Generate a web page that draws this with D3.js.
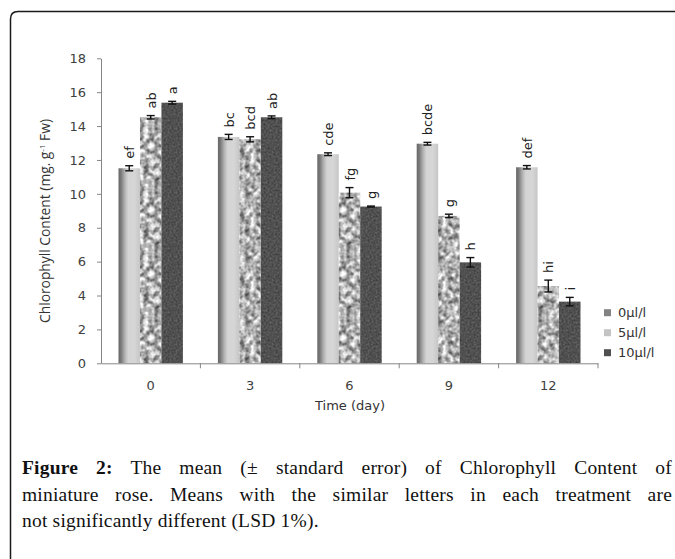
<!DOCTYPE html>
<html lang="en">
  <head>
    <meta charset="UTF-8" />
    <title>Chlorophyll content</title>
    <script src="https://d3js.org/d3.v7.min.js"></script>
    <style>
      body { margin: 0; padding: 0; background: #ffffff; }
      svg { display: block; }
      .tick text { fill: #404040; }
    </style>
  </head>
  <body>
    <script>
      const w = 675;
      const h = 559;

      // data
      const days = ["0", "3", "6", "9", "12"];
      const series = ["0µl/l", "5µl/l", "10µl/l"];
      const mean0 = [11.51, 13.36, 12.34, 12.96, 11.57];
      const mean5 = [14.52, 13.22, 10.07, 8.70, 4.56];
      const mean10 = [15.38, 14.52, 9.25, 5.96, 3.64];
      const se0 = [0.15, 0.15, 0.08, 0.08, 0.1];
      const se5 = [0.1, 0.15, 0.3, 0.1, 0.35];
      const se10 = [0.08, 0.08, 0.03, 0.28, 0.25];
      const letters0 = ["ef", "bc", "cde", "bcde", "def"];
      const letters5 = ["ab", "bcd", "fg", "g", "hi"];
      const letters10 = ["a", "ab", "g", "h", "i"];
      const yTicks = [0, 2, 4, 6, 8, 10, 12, 14, 16, 18];

      const means = [mean0, mean5, mean10];
      const ses = [se0, se5, se10];
      const letters = [letters0, letters5, letters10];

      const rows = [];
      series.forEach((s, si) => {
        days.forEach((d, di) => {
          rows.push({ day: d, s, si, v: means[si][di], e: ses[si][di], l: letters[si][di] });
        });
      });

      const svg = d3.select("body").append("svg").attr("width", w).attr("height", h);
      svg.append("rect").attr("width", w).attr("height", h).attr("fill", "#fff");

      const defs = svg.append("defs");
      const grad = defs.append("linearGradient").attr("id", "g0").attr("x1", 0).attr("x2", 1).attr("y1", 0).attr("y2", 0);
      [[0, "#666"], [0.12, "#7a7a7a"], [0.3, "#b3b3b3"], [0.45, "#d4d4d4"], [0.75, "#d6d6d6"], [1, "#c6c6c6"]]
        .forEach(([o, c]) => grad.append("stop").attr("offset", o).attr("stop-color", c));

      // noise textures as small seamless tiles
      const tile = 64;
      const makeNoise = (id, freq, octaves, seed, matrix, base) => {
        const f = defs.append("filter").attr("id", id + "f")
          .attr("filterUnits", "userSpaceOnUse")
          .attr("x", 0).attr("y", 0).attr("width", tile).attr("height", tile)
          .attr("color-interpolation-filters", "sRGB");
        f.append("feTurbulence").attr("type", "fractalNoise").attr("baseFrequency", freq)
          .attr("numOctaves", octaves).attr("seed", seed).attr("stitchTiles", "stitch");
        f.append("feColorMatrix").attr("type", "matrix").attr("values", matrix);
        const p = defs.append("pattern").attr("id", id).attr("patternUnits", "userSpaceOnUse")
          .attr("width", tile).attr("height", tile);
        p.append("rect").attr("width", tile).attr("height", tile).attr("fill", base).attr("filter", `url(#${id}f)`);
      };
      makeNoise("mottle", 0.1875, 2, 4, "1.15 0 0 0 0.12  1.15 0 0 0 0.12  1.15 0 0 0 0.12  0 0 0 0 1", "#bbb");
      makeNoise("darknoise", 0.5, 1, 2, "0.25 0 0 0 0.19  0.25 0 0 0 0.19  0.25 0 0 0 0.19  0 0 0 0 1", "#505050");

      const fills = ["url(#g0)", "url(#mottle)", "url(#darknoise)"];

      // frame
      svg.append("path")
        .attr("d", "M10.5,559 L10.5,19 Q10.5,11.5 18,11.5 L675,11.5")
        .attr("fill", "none").attr("stroke", "#1a1a1a").attr("stroke-width", 1.5);

      const x0 = d3.scaleBand().domain(days).range([101, 598]);
      const x1 = d3.scaleBand().domain(series).range([17.5, x0.bandwidth() - 17.5]);
      const y = d3.scaleLinear().domain([0, 18]).range([363.3, 58.3]);

      // y axis
      const yAxis = svg.append("g").attr("transform", "translate(101,0)")
        .call(d3.axisLeft(y).tickValues(yTicks).tickSize(4).tickSizeOuter(0).tickPadding(11));
      yAxis.selectAll("path, line").attr("stroke", "#868686");
      yAxis.selectAll("text").style("font-family", "DejaVu Sans").style("font-size", "13px");

      // bars
      svg.append("g").selectAll("rect").data(rows).join("rect")
        .attr("x", (d) => x0(d.day) + x1(d.s))
        .attr("y", (d) => y(d.v))
        .attr("width", x1.bandwidth())
        .attr("height", (d) => y(0) - y(d.v))
        .attr("fill", (d) => fills[d.si]);

      // x axis
      const xAxis = svg.append("g").attr("transform", `translate(0,${y(0)})`)
        .call(d3.axisBottom(x0).tickSize(0).tickPadding(17));
      xAxis.select(".domain").attr("stroke", "#868686");
      xAxis.selectAll("text").style("font-family", "DejaVu Sans").style("font-size", "13px");
      svg.append("g").selectAll("line").data(days.slice(1).map((d) => x0(d)).concat([x0.range()[1]]))
        .join("line")
        .attr("x1", (d) => d).attr("x2", (d) => d)
        .attr("y1", y(0)).attr("y2", y(0) + 5)
        .attr("stroke", "#868686");

      // error bars
      const cx = (d) => x0(d.day) + x1(d.s) + x1.bandwidth() / 2;
      const eb = svg.append("g").attr("stroke", "#111").attr("stroke-width", 1.4);
      rows.forEach((d) => {
        const c = cx(d);
        eb.append("line").attr("x1", c).attr("x2", c).attr("y1", y(d.v - d.e)).attr("y2", y(d.v + d.e));
        eb.append("line").attr("x1", c - 4).attr("x2", c + 4).attr("y1", y(d.v - d.e)).attr("y2", y(d.v - d.e));
        eb.append("line").attr("x1", c - 4).attr("x2", c + 4).attr("y1", y(d.v + d.e)).attr("y2", y(d.v + d.e));
      });

      // letters
      svg.append("g").selectAll("text").data(rows).join("text")
        .attr("transform", (d) => `translate(${cx(d) + 5},${y(d.v + d.e) - 7}) rotate(-90)`)
        .attr("font-family", "DejaVu Sans").attr("font-size", 13).attr("fill", "#222")
        .text((d) => d.l);

      // axis titles
      const yt = svg.append("text")
        .attr("transform", `translate(50,221) rotate(-90)`)
        .attr("text-anchor", "middle")
        .attr("font-family", "Open Sans").attr("font-size", 13.8).attr("fill", "#333");
      yt.append("tspan").text("Chlorophyll Content (mg. g");
      yt.append("tspan").attr("dy", -5).attr("font-size", 8).text("-1");
      yt.append("tspan").attr("dy", 5).text(" Fw)");

      svg.append("text").attr("x", 350).attr("y", 410).attr("text-anchor", "middle")
        .attr("font-family", "DejaVu Sans").attr("font-size", 13).attr("fill", "#333")
        .text("Time (day)");

      // legend
      const lg = svg.append("g").selectAll("g").data(series).join("g")
        .attr("transform", (d, i) => `translate(604,${312.7 + i * 20})`);
      lg.append("rect").attr("y", -3.5).attr("width", 7).attr("height", 7)
        .attr("fill", (d, i) => ["#838383", "#c4c4c4", "#505050"][i]);
      lg.append("text").attr("x", 14).attr("dy", "0.35em")
        .attr("font-family", "DejaVu Sans").attr("font-size", 13).attr("fill", "#333")
        .text((d) => d);

      // caption
      const capLines = [
        ["Figure 2:", " The mean (± standard error) of Chlorophyll Content of", true],
        ["", "miniature rose. Means with the similar letters in each treatment are", true],
        ["", "not significantly different (LSD 1%).", false],
      ];
      capLines.forEach(([b, t, justify], i) => {
        const tx = svg.append("text").attr("x", 22).attr("y", 474 + i * 26.5)
          .attr("font-family", "Liberation Serif").attr("font-size", 19.5)
          .attr("letter-spacing", 0.2).attr("fill", "#111");
        if (b) tx.append("tspan").attr("font-weight", "bold").text(b);
        tx.append("tspan").text(t);
        if (justify) {
          const natural = tx.node().getComputedTextLength();
          const spaces = (b + t).split(" ").length - 1;
          tx.attr("word-spacing", Math.max(0, (672 - 22 - natural) / spaces));
        }
      });
    </script>
  </body>
</html>
